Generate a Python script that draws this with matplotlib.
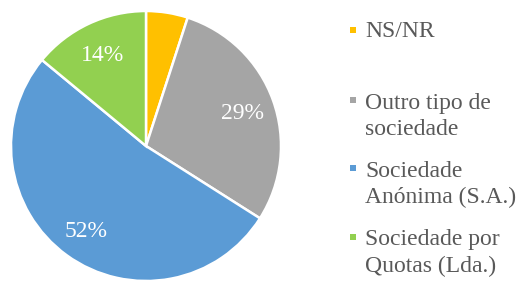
import matplotlib
matplotlib.use("Agg")
import matplotlib.pyplot as plt
from matplotlib.patches import Rectangle

# dados
categorias = ["NS/NR", "Outro tipo de\nsociedade", "Sociedade\nAnónima (S.A.)", "Sociedade por\nQuotas (Lda.)"]
valores = [5, 29, 52, 14]
cores = ["#FFC000", "#A5A5A5", "#5B9BD5", "#92D050"]

plt.rcParams["font.family"] = ["Liberation Serif", "DejaVu Serif"]

W, H = 521, 282
fig = plt.figure(figsize=(W / 100, H / 100), dpi=100)

# pie: centro (146,146), raio 135 px
cx, cy, r = 146, 146, 135
ax = fig.add_axes([(cx - r) / W, (H - cy - r) / H, 2 * r / W, 2 * r / H])


def fmt(p):
    return "" if p < 10 else "%.0f%%" % p


wedges, _, autotexts = ax.pie(
    valores,
    colors=cores,
    startangle=90,
    counterclock=False,
    autopct=fmt,
    pctdistance=0.76,
    radius=1,
    wedgeprops=dict(edgecolor="white", linewidth=1.8),
    textprops=dict(color="white", fontsize=17),
)
for t in autotexts:
    t.set_va("center_baseline")
ax.set_xlim(-1, 1)
ax.set_ylim(-1, 1)
ax.set_aspect("equal")
ax.axis("off")

# legenda manual (baseline da primeira linha, em px)
primeira = [36.7, 106.7, 175, 243.3]
passo = 28.3
for lab, cor, b in zip(categorias, cores, primeira):
    ultima = b + passo * lab.count("\n")
    fig.text(365 / W, 1 - ultima / H, lab, fontsize=17, color="#595959",
             va="baseline", ha="left", linespacing=1.34)
    fig.patches.append(Rectangle((350 / W, 1 - (b - 3.7) / H), 6 / W, 6 / H,
                                 transform=fig.transFigure, facecolor=cor,
                                 edgecolor="none"))

fig.savefig("out.png", dpi=100)
